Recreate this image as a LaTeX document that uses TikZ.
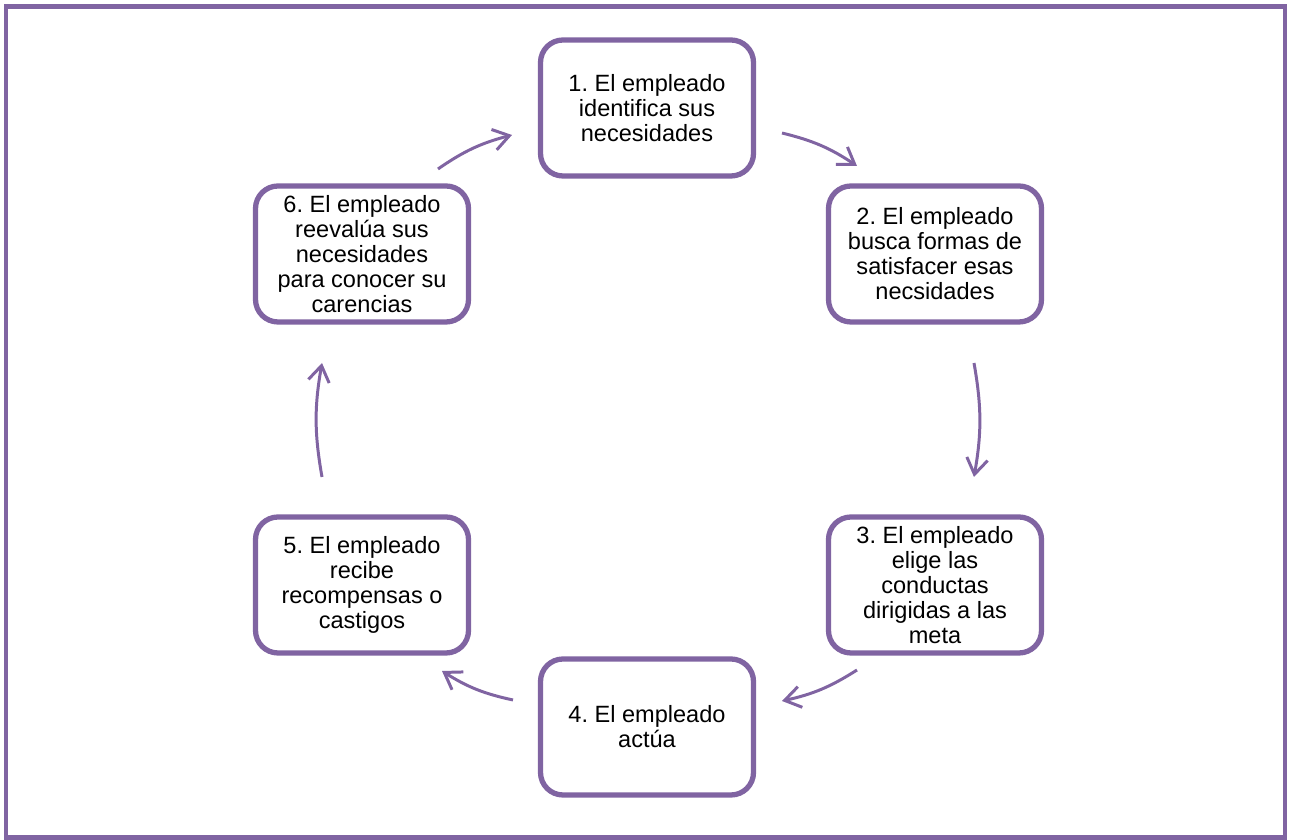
\documentclass[tikz,border=0pt]{standalone}
\usepackage{fontspec}
\setmainfont{Liberation Sans}
\usetikzlibrary{positioning,arrows.meta}
\definecolor{lila}{HTML}{8064A2}
\frenchspacing

\begin{document}
\begin{tikzpicture}[
        paso/.style={rectangle, rounded corners=0.45cm, draw=lila, line width=3pt, fill=white, text=black,
                     minimum width=4.26cm, minimum height=2.72cm, align=center,
                     font=\fontsize{13.4}{14.2}\selectfont},
        flecha/.style={-{Straight Barb[length=9pt, width=12pt]}, line width=1.7pt, lila, bend left=10}
    ]
    \useasboundingbox (0,0) rectangle (25.8,16.8);

    % marco
    \draw[lila, line width=2.8pt] (0.12,0.05) rectangle (25.7,16.67);

    % pasos del ciclo
    \node[paso] (P1) at (12.94,14.64) {1. El empleado\\identifica sus\\necesidades};
    \node[paso] (P2) at (18.70,11.72) {2. El empleado\\busca formas de\\satisfacer esas\\necsidades};
    \node[paso] (P3) at (18.70,5.10) {3. El empleado\\elige las\\conductas\\dirigidas a las\\meta};
    \node[paso] (P4) at (12.94,2.26) {4. El empleado\\actúa};
    \node[paso] (P5) at (7.24,5.10) {5. El empleado\\recibe\\recompensas o\\castigos};
    \node[paso] (P6) at (7.24,11.72) {6. El empleado\\reevalúa sus\\necesidades\\para conocer su\\carencias};

    % extremos de las flechas
    \coordinate (a1) at (15.64,14.14);
    \coordinate (b1) at (17.14,13.48);
    \coordinate (a2) at (19.48,9.54);
    \coordinate (b2) at (19.48,7.26);
    \coordinate (a3) at (17.14,3.40);
    \coordinate (b3) at (15.64,2.78);
    \coordinate (a4) at (10.26,2.80);
    \coordinate (b4) at (8.84,3.38);
    \coordinate (a5) at (6.44,7.26);
    \coordinate (b5) at (6.44,9.54);
    \coordinate (a6) at (8.76,13.42);
    \coordinate (b6) at (10.24,14.10);

    \foreach \i in {1,...,6}
        \draw[flecha] (a\i) to (b\i);
\end{tikzpicture}
\end{document}
